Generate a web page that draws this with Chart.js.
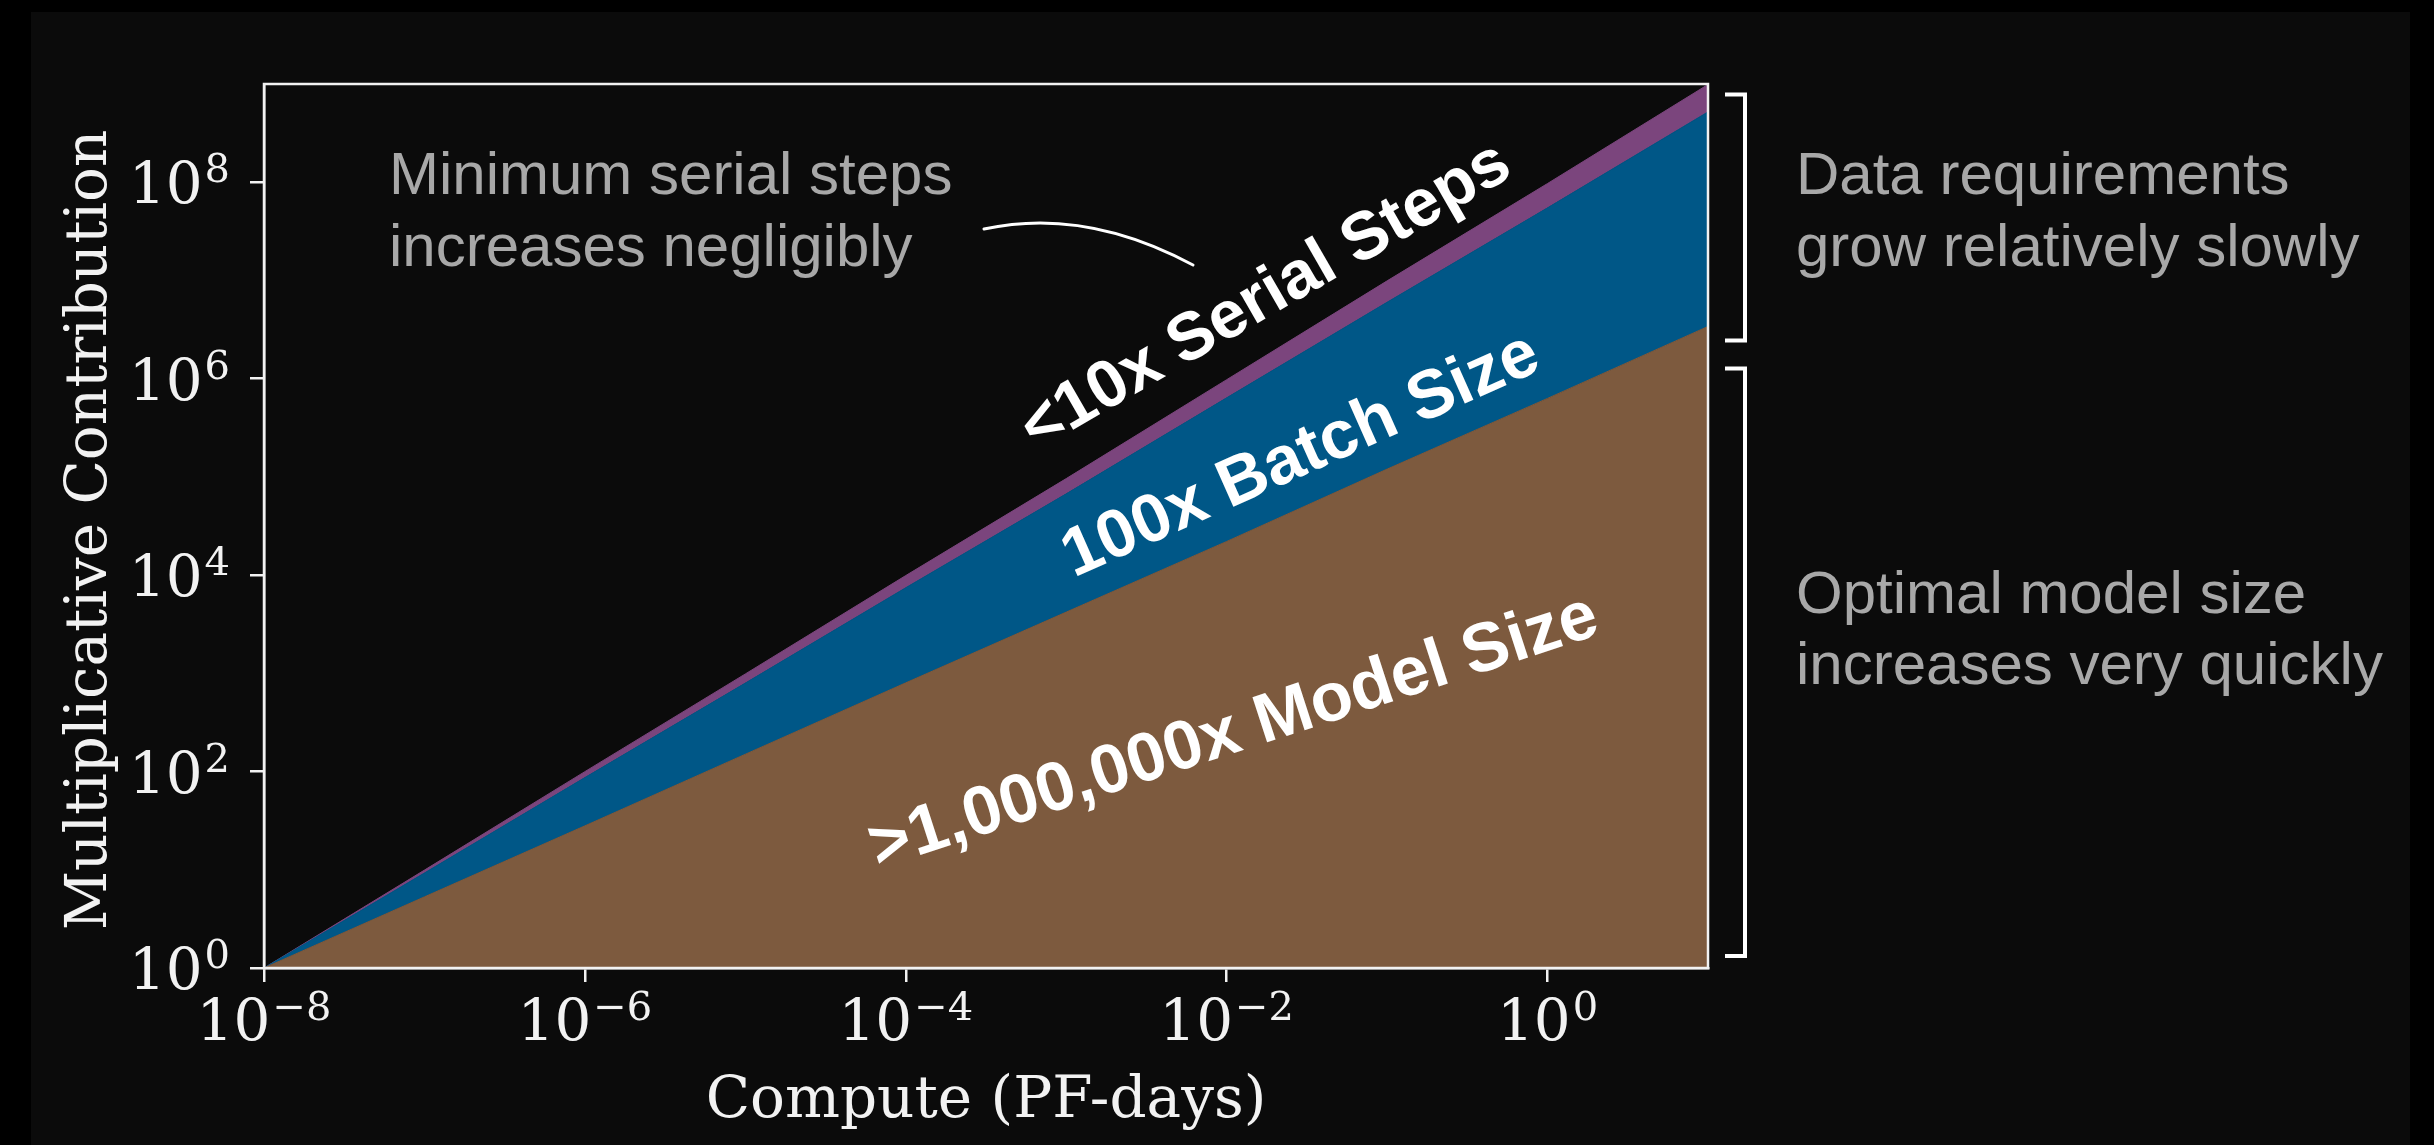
<!DOCTYPE html>
<html>
<head>
<meta charset="utf-8">
<script src="https://cdn.jsdelivr.net/npm/chart.js@4/dist/chart.umd.min.js"></script>
<style>
  html, body { margin: 0; padding: 0; background: #000; overflow: hidden; }
  #wrap { position: absolute; left: 0; top: 0; width: 2434px; height: 1145px; }
  canvas { display: block; }
</style>
</head>
<body>
<div id="wrap"><canvas id="chart" width="2434" height="1145"></canvas></div>
<script>
// Compute budget (PF-days), one point per decade
const computePF = [1e-8, 1e-7, 1e-6, 1e-5, 1e-4, 1e-3, 1e-2, 1e-1, 1, 10];

// Multiplicative gain of each factor relative to the smallest budget
const modelSizeGain   = [1, 5.3, 28, 150, 800, 4200, 22000, 120000, 630000, 3400000];
const batchSizeGain   = [1, 1.75, 3.1, 5.3, 9.3, 16, 29, 50, 87, 153];
const serialStepsGain = [1, 1.07, 1.15, 1.24, 1.33, 1.43, 1.53, 1.65, 1.77, 1.9];

// Decade exponents that carry tick labels
const xTickExponents = [-8, -6, -4, -2, 0];
const yTickExponents = [0, 2, 4, 6, 8];

// Band labels and side notes
const bandLabels = ['>1,000,000x Model Size', '100x Batch Size', '<10x Serial Steps'];
const serialNote = ['Minimum serial steps', 'increases negligibly'];
const dataNote   = ['Data requirements', 'grow relatively slowly'];
const modelNote  = ['Optimal model size', 'increases very quickly'];

const xTitle = 'Compute (PF-days)';
const yTitle = 'Multiplicative Contribution';

// Stacked upper edges of the three bands
const edgeModel  = computePF.map((c, i) => ({ x: c, y: modelSizeGain[i] }));
const edgeBatch  = computePF.map((c, i) => ({ x: c, y: modelSizeGain[i] * batchSizeGain[i] }));
const edgeSerial = computePF.map((c, i) => ({ x: c, y: modelSizeGain[i] * batchSizeGain[i] * serialStepsGain[i] }));

const COLORS = { model: '#7d5a3e', batch: '#005787', serial: '#7b457d', axis: '#f2f2f2', note: '#a8a8a8' };
const SERIF = '"DejaVu Serif", serif';
const SANS  = '"Liberation Sans", Arial, sans-serif';

function drawPower(ctx, exp, x, yBase, ySup, align) {
  const base = '10';
  const sup = exp < 0 ? '\u2212' + Math.abs(exp) : String(exp);
  ctx.font = '58px ' + SERIF;
  const wb = ctx.measureText(base).width;
  ctx.font = '40px ' + SERIF;
  const ws = ctx.measureText(sup).width;
  const gap = 2;
  const total = wb + gap + ws;
  let x0 = align === 'right' ? x - total : x - total / 2;
  ctx.textAlign = 'left';
  ctx.textBaseline = 'alphabetic';
  ctx.font = '58px ' + SERIF;
  ctx.fillText(base, x0, yBase);
  ctx.font = '40px ' + SERIF;
  ctx.fillText(sup, x0 + wb + gap, ySup);
}

function rotatedText(ctx, text, cx, cy, deg, font, color) {
  ctx.save();
  ctx.translate(cx, cy);
  ctx.rotate(-deg * Math.PI / 180);
  ctx.font = font;
  ctx.fillStyle = color;
  ctx.textAlign = 'center';
  ctx.textBaseline = 'middle';
  ctx.fillText(text, 0, 0);
  ctx.restore();
}

const decorations = {
  id: 'decorations',
  beforeDraw(chart) {
    const ctx = chart.ctx;
    ctx.save();
    ctx.fillStyle = '#000';
    ctx.fillRect(0, 0, chart.width, chart.height);
    ctx.fillStyle = '#0b0b0b';
    ctx.fillRect(31, 12, 2379, 1133);
    ctx.restore();
  },
  afterDraw(chart) {
    const ctx = chart.ctx;
    const a = chart.chartArea;
    const xs = chart.scales.x, ys = chart.scales.y;
    ctx.save();

    // frame around the plotting area
    ctx.strokeStyle = COLORS.axis;
    ctx.lineWidth = 2.5;
    ctx.strokeRect(a.left, a.top, a.right - a.left, a.bottom - a.top);

    // tick labels
    ctx.fillStyle = COLORS.axis;
    xTickExponents.forEach(e => {
      const px = xs.getPixelForValue(Math.pow(10, e));
      drawPower(ctx, e, px, a.bottom + 72, a.bottom + 52, 'center');
    });
    yTickExponents.forEach(e => {
      const py = ys.getPixelForValue(Math.pow(10, e));
      drawPower(ctx, e, a.left - 34, py + 21, py, 'right');
    });

    // axis titles
    ctx.font = '58px ' + SERIF;
    ctx.textAlign = 'center';
    ctx.textBaseline = 'alphabetic';
    ctx.fillText(xTitle, (a.left + a.right) / 2, a.bottom + 149);
    ctx.save();
    ctx.translate(106, (a.top + a.bottom) / 2 + 4);
    ctx.rotate(-Math.PI / 2);
    ctx.fillText(yTitle, 0, 0);
    ctx.restore();

    // band labels
    rotatedText(ctx, bandLabels[0], 1234, 733, 18, 'bold 69px ' + SANS, '#ffffff');
    rotatedText(ctx, bandLabels[1], 1301, 456, 24, 'bold 68px ' + SANS, '#ffffff');
    rotatedText(ctx, bandLabels[2], 1266, 297, 30, 'bold 67px ' + SANS, '#ffffff');

    // notes
    ctx.font = '60px ' + SANS;
    ctx.fillStyle = COLORS.note;
    ctx.textAlign = 'left';
    ctx.textBaseline = 'alphabetic';
    ctx.fillText(serialNote[0], 389, 194);
    ctx.fillText(serialNote[1], 389, 266);
    ctx.fillText(dataNote[0], 1796, 194);
    ctx.fillText(dataNote[1], 1796, 266);
    ctx.fillText(modelNote[0], 1796, 613);
    ctx.fillText(modelNote[1], 1796, 684);

    // pointer from the serial-steps note
    ctx.strokeStyle = '#ffffff';
    ctx.lineWidth = 3;
    ctx.lineCap = 'round';
    ctx.beginPath();
    ctx.moveTo(984, 229);
    ctx.quadraticCurveTo(1085, 207, 1193, 265);
    ctx.stroke();

    // brackets on the right
    const bx = a.right + 37, arm = 20;
    const yTop = ys.getPixelForValue(edgeSerial[edgeSerial.length - 1].y) + 10;
    const yMid = ys.getPixelForValue(edgeModel[edgeModel.length - 1].y);
    const yLow = ys.getPixelForValue(1);
    ctx.lineWidth = 4;
    ctx.lineCap = 'butt';
    ctx.strokeStyle = '#ffffff';
    [[yTop, yMid + 14], [yMid + 42, yLow - 12]].forEach(([t, b]) => {
      ctx.beginPath();
      ctx.moveTo(bx - arm, t);
      ctx.lineTo(bx, t);
      ctx.lineTo(bx, b);
      ctx.lineTo(bx - arm, b);
      ctx.stroke();
    });

    ctx.restore();
  }
};

const axisCommon = {
  type: 'logarithmic',
  ticks: { display: false },
  grid: { display: true, drawOnChartArea: false, drawTicks: true, tickLength: 14, color: COLORS.axis, lineWidth: 2.5 },
  border: { display: true, color: COLORS.axis, width: 2.5 }
};

new Chart(document.getElementById('chart'), {
  type: 'line',
  data: {
    datasets: [
      { label: 'Model Size', data: edgeModel, backgroundColor: COLORS.model, borderColor: COLORS.model, borderWidth: 1, fill: 'start', pointRadius: 0, tension: 0 },
      { label: 'Batch Size', data: edgeBatch, backgroundColor: COLORS.batch, borderColor: COLORS.batch, borderWidth: 1, fill: '-1', pointRadius: 0, tension: 0 },
      { label: 'Serial Steps', data: edgeSerial, backgroundColor: COLORS.serial, borderColor: COLORS.serial, borderWidth: 1, fill: '-1', pointRadius: 0, tension: 0 }
    ]
  },
  options: {
    responsive: false,
    devicePixelRatio: 1,
    animation: false,
    layout: { padding: { top: 84, right: 726, bottom: 0, left: 0 } },
    plugins: { legend: { display: false }, tooltip: { enabled: false } },
    scales: {
      x: Object.assign({}, axisCommon, {
        position: 'bottom', min: 1e-8, max: 10,
        afterBuildTicks: s => { s.ticks = xTickExponents.map(e => ({ value: Math.pow(10, e) })); },
        afterFit: s => { s.height = 177; }
      }),
      y: Object.assign({}, axisCommon, {
        position: 'left', min: 1, max: 1e9,
        afterBuildTicks: s => { s.ticks = yTickExponents.map(e => ({ value: Math.pow(10, e) })); },
        afterFit: s => { s.width = 264; }
      })
    }
  },
  plugins: [decorations]
});
</script>
</body>
</html>
